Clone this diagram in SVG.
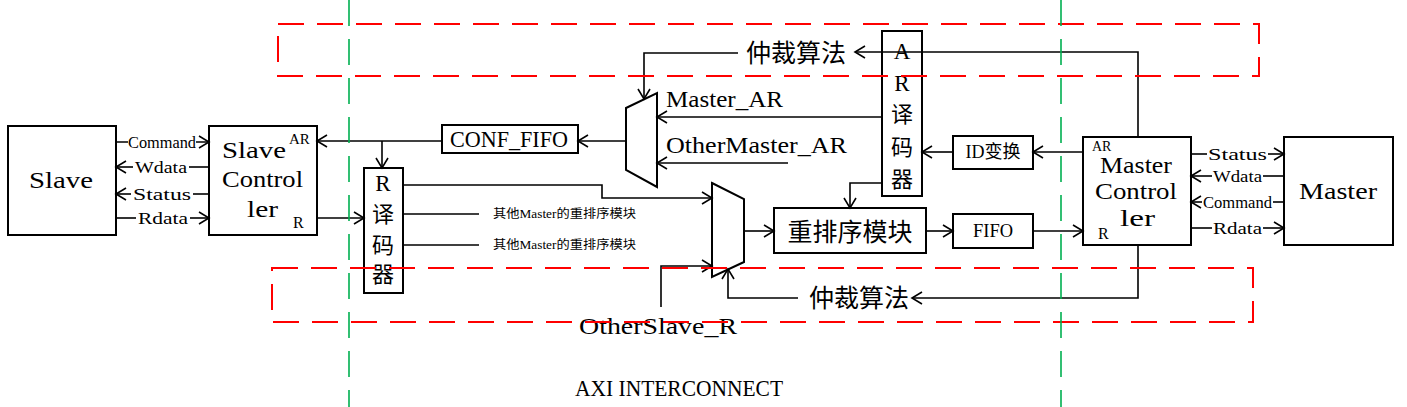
<svg xmlns="http://www.w3.org/2000/svg" width="1407" height="407" viewBox="0 0 1407 407">
<style>
.box{fill:#fff;stroke:#000;stroke-width:2}
.ln{fill:none;stroke:#000;stroke-width:1.6}
.mono{font-family:"Liberation Serif","Noto Sans CJK SC",serif;fill:#000}
.serif{font-family:"Liberation Serif","Noto Sans CJK SC",serif;fill:#000;font-size:17px}
.cjk{font-family:"Noto Sans CJK SC",sans-serif;fill:#000}
.red{fill:none;stroke:#FF0000;stroke-width:2;stroke-dasharray:26 13}
.green{fill:none;stroke:#00B050;stroke-width:1.6;stroke-dasharray:26 13}
</style>
<defs>
<marker id="arr" markerUnits="userSpaceOnUse" markerWidth="14" markerHeight="16" refX="11" refY="7" orient="auto">
<path d="M1,1 L11,7 L1,13" fill="none" stroke="#000" stroke-width="1.6"/>
</marker>
</defs>
<rect width="1407" height="407" fill="#fff"/>

<g id="slave">
<rect class="box" x="8" y="126" width="108" height="109"/>
<text class="mono" x="29" y="188" font-size="24" textLength="64" lengthAdjust="spacingAndGlyphs">Slave</text>
</g>
<g id="slave-controller">
<rect class="box" x="209" y="126" width="108" height="109"/>
<text class="mono" x="222" y="158" font-size="24" textLength="64" lengthAdjust="spacingAndGlyphs">Slave</text>
<text class="mono" x="222" y="187" font-size="24" textLength="81" lengthAdjust="spacingAndGlyphs">Control</text>
<text class="mono" x="247" y="217" font-size="24" textLength="31" lengthAdjust="spacingAndGlyphs">ler</text>
<text class="serif" x="289" y="144" style="font-size:15px">AR</text>
<text class="serif" x="293" y="228" style="font-size:16px">R</text>
</g>
<g id="r-decoder">
<rect class="box" x="364" y="168" width="39" height="125"/>
<text class="serif" x="383" y="191" text-anchor="middle" style="font-size:23px">R</text>
<text class="cjk" x="383" y="222" text-anchor="middle" font-size="22">译</text>
<text class="cjk" x="383" y="253" text-anchor="middle" font-size="22">码</text>
<text class="cjk" x="383" y="282" text-anchor="middle" font-size="22">器</text>
</g>
<g id="conf-fifo">
<rect class="box" x="442" y="125" width="136" height="28"/>
<text class="mono" x="450" y="147" font-size="24" textLength="118" lengthAdjust="spacingAndGlyphs">CONF_FIFO</text>
</g>
<g id="mux-ar">
<polygon class="box" points="626,108 657,93 657,187 626,170"/>
</g>
<g id="ar-decoder">
<rect class="box" x="882" y="31" width="40" height="165"/>
<text class="serif" x="902" y="59" text-anchor="middle" style="font-size:23px">A</text>
<text class="serif" x="902" y="91" text-anchor="middle" style="font-size:23px">R</text>
<text class="cjk" x="902" y="122" text-anchor="middle" font-size="22">译</text>
<text class="cjk" x="902" y="155" text-anchor="middle" font-size="22">码</text>
<text class="cjk" x="902" y="187" text-anchor="middle" font-size="22">器</text>
</g>
<g id="id-convert">
<rect class="box" x="953" y="136" width="80" height="33"/>
<text class="mono" x="993" y="158" text-anchor="middle" font-size="18">ID变换</text>
</g>
<g id="fifo">
<rect class="box" x="953" y="214" width="80" height="34"/>
<text class="mono" x="973" y="237" font-size="18" textLength="40" lengthAdjust="spacingAndGlyphs">FIFO</text>
</g>
<g id="reorder">
<rect class="box" x="774" y="208" width="152" height="45"/>
<text class="cjk" x="850" y="241" text-anchor="middle" font-size="25">重排序模块</text>
</g>
<g id="mux-r">
<polygon class="box" points="712,183 744,199 744,262 712,277"/>
</g>
<g id="master-controller">
<rect class="box" x="1083" y="137" width="108" height="108"/>
<text class="mono" x="1100" y="173" font-size="24" textLength="72" lengthAdjust="spacingAndGlyphs">Master</text>
<text class="mono" x="1095" y="199" font-size="24" textLength="82" lengthAdjust="spacingAndGlyphs">Control</text>
<text class="mono" x="1120" y="226" font-size="24" textLength="35" lengthAdjust="spacingAndGlyphs">ler</text>
<text class="serif" x="1092" y="151" style="font-size:14px">AR</text>
<text class="serif" x="1098" y="239" style="font-size:16px">R</text>
</g>
<g id="master">
<rect class="box" x="1284" y="137" width="109" height="108"/>
<text class="mono" x="1299" y="199" font-size="24" textLength="78" lengthAdjust="spacingAndGlyphs">Master</text>
</g>

<g id="connectors">
<path class="ln" d="M116,142 H128 M196,142 H209" marker-end="url(#arr)"/>
<path class="ln" d="M133,167 H116" marker-end="url(#arr)"/>
<path class="ln" d="M189,167 H209"/>
<path class="ln" d="M131,194 H116" marker-end="url(#arr)"/>
<path class="ln" d="M193,194 H209"/>
<path class="ln" d="M116,218 H136"/>
<path class="ln" d="M190,218 H209" marker-end="url(#arr)"/>
<path class="ln" d="M442,141 H317" marker-end="url(#arr)"/>
<path class="ln" d="M382,141 V168" marker-end="url(#arr)"/>
<path class="ln" d="M317,218 H364" marker-end="url(#arr)"/>
<path class="ln" d="M626,141 H578" marker-end="url(#arr)"/>
<path class="ln" d="M882,117 H657" marker-end="url(#arr)"/>
<path class="ln" d="M788,163 H657" marker-end="url(#arr)"/>
<path class="ln" d="M1138,137 V52 H855" marker-end="url(#arr)"/>
<path class="ln" d="M738,53 H644 V99" marker-end="url(#arr)"/>
<path class="ln" d="M1083,152 H1033" marker-end="url(#arr)"/>
<path class="ln" d="M953,152 H922" marker-end="url(#arr)"/>
<path class="ln" d="M882,183 H850 V208" marker-end="url(#arr)"/>
<path class="ln" d="M403,185 H602 V198 H712" marker-end="url(#arr)"/>
<path class="ln" d="M403,214 H479 M403,245 H479"/>
<path class="ln" d="M661,307 V266 H712" marker-end="url(#arr)"/>
<path class="ln" d="M744,231 H774" marker-end="url(#arr)"/>
<path class="ln" d="M926,231 H953" marker-end="url(#arr)"/>
<path class="ln" d="M1033,231 H1083" marker-end="url(#arr)"/>
<path class="ln" d="M1138,245 V298 H912" marker-end="url(#arr)"/>
<path class="ln" d="M798,298 H728 V269" marker-end="url(#arr)"/>
<path class="ln" d="M1191,154 H1207"/>
<path class="ln" d="M1268,154 H1284" marker-end="url(#arr)"/>
<path class="ln" d="M1212,176 H1191" marker-end="url(#arr)"/>
<path class="ln" d="M1263,176 H1284"/>
<path class="ln" d="M1202,202 H1191" marker-end="url(#arr)"/>
<path class="ln" d="M1273,202 H1284"/>
<path class="ln" d="M1191,228 H1212"/>
<path class="ln" d="M1263,228 H1284" marker-end="url(#arr)"/>
</g>

<g id="labels">
<text class="serif" x="128" y="148" textLength="68" lengthAdjust="spacingAndGlyphs">Command</text>
<text class="serif" x="135" y="173" textLength="52" lengthAdjust="spacingAndGlyphs">Wdata</text>
<text class="serif" x="133" y="200" textLength="58" lengthAdjust="spacingAndGlyphs">Status</text>
<text class="serif" x="138" y="224" textLength="50" lengthAdjust="spacingAndGlyphs">Rdata</text>
<text class="serif" x="1208" y="160" textLength="59" lengthAdjust="spacingAndGlyphs">Status</text>
<text class="serif" x="1213" y="182" textLength="49" lengthAdjust="spacingAndGlyphs">Wdata</text>
<text class="serif" x="1203" y="208" textLength="69" lengthAdjust="spacingAndGlyphs">Command</text>
<text class="serif" x="1213" y="234" textLength="49" lengthAdjust="spacingAndGlyphs">Rdata</text>
<text class="mono" x="666" y="107" font-size="24" textLength="117" lengthAdjust="spacingAndGlyphs">Master_AR</text>
<text class="mono" x="666" y="153" font-size="24" textLength="181" lengthAdjust="spacingAndGlyphs">OtherMaster_AR</text>
<text class="cjk" x="796" y="62" text-anchor="middle" font-size="25">仲裁算法</text>
<text class="cjk" x="859" y="307" text-anchor="middle" font-size="25">仲裁算法</text>
<text class="mono" x="493" y="218" font-size="12" textLength="143" lengthAdjust="spacingAndGlyphs">其他Master的重排序模块</text>
<text class="mono" x="493" y="249" font-size="12" textLength="143" lengthAdjust="spacingAndGlyphs">其他Master的重排序模块</text>
<text class="mono" x="579" y="334" font-size="24" textLength="158" lengthAdjust="spacingAndGlyphs">OtherSlave_R</text>
<text class="mono" x="575" y="396" font-size="23" textLength="208" lengthAdjust="spacingAndGlyphs">AXI INTERCONNECT</text>
</g>

<g id="regions">
<rect class="red" x="278" y="24" width="981" height="52"/>
<rect class="red" x="272" y="268" width="981" height="54"/>
<line class="green" x1="349" y1="0" x2="349" y2="407"/>
<line class="green" x1="1061" y1="0" x2="1061" y2="407"/>
</g>
</svg>
